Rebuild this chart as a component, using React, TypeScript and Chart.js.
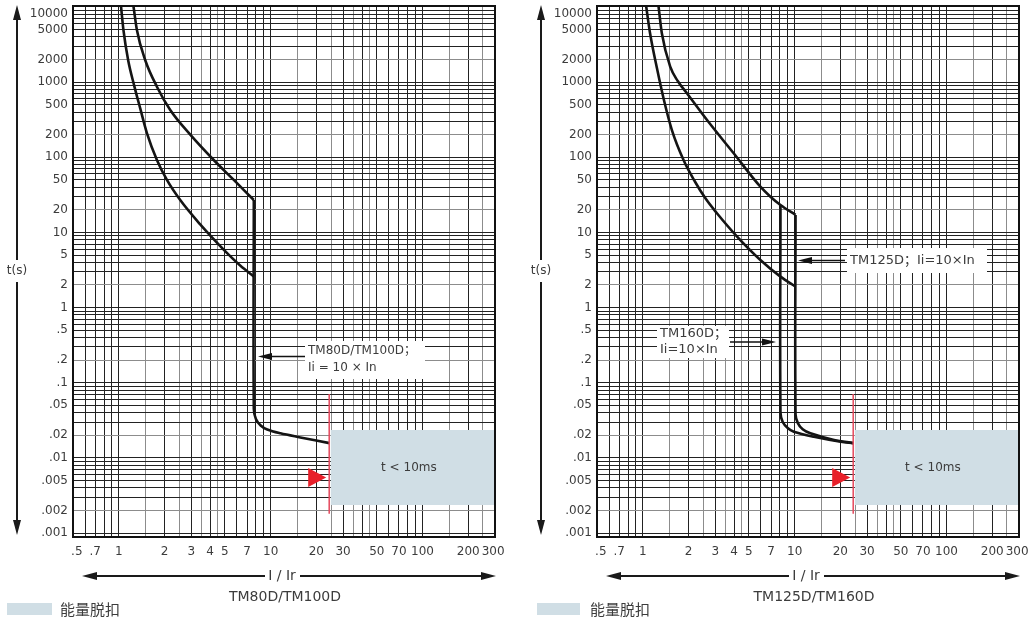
import React, { useEffect, useRef } from 'react';
import { Chart, registerables } from 'chart.js';

Chart.register(...registerables);

// ---------------- data ----------------
const X_LABEL_VALUES = [0.5, 0.7, 1, 2, 3, 4, 5, 7, 10, 20, 30, 50, 70, 100, 200, 300];
const X_LABEL_TEXT = ['  .5', '.7', '1', '2', '3', '4', '5', '7', '10', '20', '30', '50', '70', '100', '200', '300 '];
const Y_LABEL_VALUES = [10000, 5000, 2000, 1000, 500, 200, 100, 50, 20, 10, 5, 2, 1, 0.5, 0.2, 0.1, 0.05, 0.02, 0.01, 0.005, 0.002, 0.001];
const Y_LABEL_TEXT = ['10000', '5000', '2000', '1000', '500', '200', '100', '50', '20', '10', '5', '2', '1', '.5', '.2', '.1', '.05', '.02', '.01', '.005', '.002', '.001'];
const X_GRID_MANTISSAS = [1, 1.5, 2, 2.5, 3, 3.5, 4, 4.5, 5, 6, 7, 8, 9];
const Y_GRID_MANTISSAS = [1, 2, 3, 4, 5, 6, 7, 8, 9];

// TM80D/TM100D
const L_LOWER_I = [1.035, 1.074, 1.153, 1.264, 1.384, 1.533, 1.784, 2.076, 2.54, 3.44, 4.2, 5.17, 6.33, 7.75];
const L_LOWER_T = [10300, 4943, 1972, 900, 450, 210, 92, 50, 27, 12.8, 8.2, 5.3, 3.6, 2.6];
const L_UPPER_I = [1.25, 1.317, 1.493, 1.784, 2.183, 2.958, 4.22, 5.72, 7.75];
const L_UPPER_T = [10300, 4943, 1972, 869, 426, 200, 92, 50, 27];
const L_TAIL_I = [7.75, 7.75, 8.0, 8.6, 9.5, 11.6, 15.7, 24.4];
const L_TAIL_T = [27, 0.045, 0.033, 0.027, 0.0238, 0.0212, 0.0187, 0.0157];

// TM125D/TM160D
const R_LOWER_I = [1.053, 1.119, 1.239, 1.384, 1.556, 1.856, 2.2, 2.6, 3.08, 4.18, 5.95, 8.07, 10.14];
const R_LOWER_T = [10300, 4400, 1550, 560, 230, 92, 48, 28, 18, 8.8, 4.3, 2.58, 1.9];
const R_UPPER_I = [1.27, 1.336, 1.517, 1.70, 1.955, 2.65, 3.97, 5.95, 6.93, 8.07, 10.14];
const R_UPPER_T = [10300, 4467, 1606, 1035, 710, 313, 113, 40.6, 29.9, 23.2, 17.1];
const R_TAIL160_I = [8.07, 8.07, 8.35, 9.0, 9.88, 13.4, 20.1, 24.4];
const R_TAIL160_T = [23.2, 0.04, 0.03, 0.025, 0.0223, 0.0191, 0.0164, 0.0157];
const R_TAIL125_I = [10.14, 10.14, 10.5, 11.3, 12.7, 18.2, 24.4];
const R_TAIL125_T = [17.1, 0.038, 0.029, 0.024, 0.0212, 0.0173, 0.0157];

// energy-trip zone
const ENERGY_BOX_I = [24.9, 300];
const ENERGY_BOX_T = [0.00236, 0.0235];
const RED_LINE_I = 24.3;
const RED_LINE_T = [0.0018, 0.0708];
const RED_MARK_T = 0.0055;

const X_MIN = 0.5;
const X_MAX = 300;
const Y_MIN = 0.000885;
const Y_MAX = 10310;

// ---------------- styles ----------------
const H = 621;
const FONT = '"DejaVu Sans", "Noto Sans CJK SC", sans-serif';
const CJK = '"Noto Sans CJK SC", sans-serif';
const TEXT = '#3c3c3c';
const CURVE = '#141414';
const BOX_COLOR = '#d0dee5';
const RED_LINE = '#e5485c';
const RED_MARK = '#e8202a';

function buildGrid(mants: number[], lo: number, hi: number, e0: number, e1: number) {
  const out: number[] = [];
  for (let e = e0; e <= e1; e++) {
    for (const m of mants) {
      const v = +(m * Math.pow(10, e)).toPrecision(6);
      if (v >= lo * 0.9999 && v <= hi * 1.0001) out.push(v);
    }
  }
  return out;
}
const X_GRID = buildGrid(X_GRID_MANTISSAS, X_MIN, X_MAX, -1, 2);
const Y_GRID = buildGrid(Y_GRID_MANTISSAS, 0.001, 10000, -3, 4);

function mantissa(v: number) {
  return v / Math.pow(10, Math.floor(Math.log10(v) + 1e-9));
}
function findLabel(v: number, vals: number[], texts: string[]) {
  const i = vals.findIndex((k) => Math.abs(k - v) <= k * 1e-6);
  return i >= 0 ? texts[i] : '';
}

type Curve = { i: number[]; t: number[]; smooth: 'monotone' | 'tension' };
type Note = { lines: string[]; box: number[]; textX: number; lineY: number[]; arrow: number[]; font: number };
type PanelCfg = {
  key: string;
  left: number;
  width: number;
  subtitle: string;
  subtitleX: number;
  swatchX: number;
  swatchW: number;
  legendTextX: number;
  curves: Curve[];
  notes: Note[];
};

const PANELS: PanelCfg[] = [
  {
    key: 'L',
    left: 0,
    width: 524,
    subtitle: 'TM80D/TM100D',
    subtitleX: 285,
    swatchX: 7,
    swatchW: 45,
    legendTextX: 60,
    curves: [
      { i: L_LOWER_I, t: L_LOWER_T, smooth: 'monotone' },
      { i: L_UPPER_I, t: L_UPPER_T, smooth: 'monotone' },
      { i: L_TAIL_I, t: L_TAIL_T, smooth: 'tension' },
    ],
    notes: [
      { lines: ['TM80D/TM100D；', 'Ii = 10 × In'], box: [305, 341, 120, 38], textX: 308, lineY: [351, 368], arrow: [305, 356.5, 258, 356.5], font: 12 },
    ],
  },
  {
    key: 'R',
    left: 524,
    width: 509,
    subtitle: 'TM125D/TM160D',
    subtitleX: 290,
    swatchX: 13,
    swatchW: 43,
    legendTextX: 66,
    curves: [
      { i: R_LOWER_I, t: R_LOWER_T, smooth: 'monotone' },
      { i: R_UPPER_I, t: R_UPPER_T, smooth: 'monotone' },
      { i: R_TAIL160_I, t: R_TAIL160_T, smooth: 'tension' },
      { i: R_TAIL125_I, t: R_TAIL125_T, smooth: 'tension' },
    ],
    notes: [
      { lines: ['TM125D；Ii=10×In'], box: [323, 248, 140, 25], textX: 326, lineY: [260.5], arrow: [321, 260.5, 274, 260.5], font: 13 },
      { lines: ['TM160D；', 'Ii=10×In'], box: [133, 326, 72, 32], textX: 136, lineY: [334, 350], arrow: [206, 342, 252, 342], font: 13 },
    ],
  },
];

function arrowHead(ctx: CanvasRenderingContext2D, tx: number, ty: number, dx: number, dy: number, len: number, half: number) {
  const bx = tx - dx * len;
  const by = ty - dy * len;
  const px = -dy;
  const py = dx;
  ctx.beginPath();
  ctx.moveTo(tx, ty);
  ctx.lineTo(bx + px * half, by + py * half);
  ctx.lineTo(bx - px * half, by - py * half);
  ctx.closePath();
  ctx.fill();
}

function Panel({ cfg }: { cfg: PanelCfg }) {
  const ref = useRef<HTMLCanvasElement | null>(null);

  useEffect(() => {
    const canvas = ref.current;
    if (!canvas) return;

    const deco = {
      id: 'deco' + cfg.key,
      beforeDatasetsDraw(chart: any) {
        const { ctx, scales } = chart;
        const xs = scales.x;
        const ys = scales.y;
        const x1 = xs.getPixelForValue(ENERGY_BOX_I[0]);
        const x2 = xs.getPixelForValue(ENERGY_BOX_I[1]);
        const y1 = ys.getPixelForValue(ENERGY_BOX_T[1]);
        const y2 = ys.getPixelForValue(ENERGY_BOX_T[0]);
        ctx.save();
        ctx.fillStyle = BOX_COLOR;
        ctx.fillRect(x1, y1, x2 - x1, y2 - y1);
        ctx.restore();
      },
      afterDatasetsDraw(chart: any) {
        const { ctx, chartArea: a, scales } = chart;
        const xs = scales.x;
        const ys = scales.y;
        ctx.save();

        // red boundary line and marker
        const rx = xs.getPixelForValue(RED_LINE_I);
        ctx.strokeStyle = RED_LINE;
        ctx.lineWidth = 1.5;
        ctx.beginPath();
        ctx.moveTo(rx, ys.getPixelForValue(RED_LINE_T[1]));
        ctx.lineTo(rx, ys.getPixelForValue(RED_LINE_T[0]));
        ctx.stroke();
        const my = ys.getPixelForValue(RED_MARK_T);
        ctx.fillStyle = RED_MARK;
        ctx.beginPath();
        ctx.moveTo(rx - 3, my);
        ctx.lineTo(rx - 21, my - 9.5);
        ctx.lineTo(rx - 21, my + 9.5);
        ctx.closePath();
        ctx.fill();

        // zone text
        const bx1 = xs.getPixelForValue(ENERGY_BOX_I[0]);
        const bx2 = xs.getPixelForValue(ENERGY_BOX_I[1]);
        const by1 = ys.getPixelForValue(ENERGY_BOX_T[1]);
        const by2 = ys.getPixelForValue(ENERGY_BOX_T[0]);
        ctx.fillStyle = TEXT;
        ctx.font = `12px ${FONT}`;
        ctx.textAlign = 'center';
        ctx.textBaseline = 'middle';
        ctx.fillText('t < 10ms', (bx1 + bx2) / 2 - 4, (by1 + by2) / 2);

        // plot border
        ctx.strokeStyle = '#111';
        ctx.lineWidth = 2;
        ctx.strokeRect(a.left, a.top, a.right - a.left, a.bottom - a.top);

        // annotations
        for (const n of cfg.notes) {
          ctx.fillStyle = '#fff';
          ctx.fillRect(n.box[0], n.box[1], n.box[2], n.box[3]);
          ctx.fillStyle = TEXT;
          ctx.font = `${n.font}px ${FONT}`;
          ctx.textAlign = 'left';
          ctx.textBaseline = 'middle';
          n.lines.forEach((s, k) => ctx.fillText(s, n.textX, n.lineY[k]));
          const [x0, y0, x1, y1] = n.arrow;
          const dir = Math.sign(x1 - x0);
          ctx.strokeStyle = '#111';
          ctx.lineWidth = 1.5;
          ctx.beginPath();
          ctx.moveTo(x0, y0);
          ctx.lineTo(x1 - dir * 10, y1);
          ctx.stroke();
          ctx.fillStyle = '#111';
          arrowHead(ctx, x1, y1, dir, 0, 14, 3.5);
        }

        // vertical axis arrow with t(s)
        const ax = 17;
        const tY = 271;
        ctx.strokeStyle = '#1a1a1a';
        ctx.fillStyle = '#1a1a1a';
        ctx.lineWidth = 2;
        ctx.beginPath();
        ctx.moveTo(ax, 16);
        ctx.lineTo(ax, tY - 11);
        ctx.moveTo(ax, tY + 11);
        ctx.lineTo(ax, 524);
        ctx.stroke();
        arrowHead(ctx, ax, 5, 0, -1, 15, 4);
        arrowHead(ctx, ax, 535, 0, 1, 15, 4);
        ctx.fillStyle = TEXT;
        ctx.font = `12px ${FONT}`;
        ctx.textAlign = 'center';
        ctx.textBaseline = 'middle';
        ctx.fillText('t(s)', ax, tY);

        // horizontal axis arrow with I / Ir
        const hy = 576;
        const lx = a.left + 9;
        const rxTip = a.right + 1;
        const cx = 282;
        ctx.strokeStyle = '#1a1a1a';
        ctx.fillStyle = '#1a1a1a';
        ctx.beginPath();
        ctx.moveTo(lx + 10, hy);
        ctx.lineTo(cx - 17, hy);
        ctx.moveTo(cx + 18, hy);
        ctx.lineTo(rxTip - 10, hy);
        ctx.stroke();
        arrowHead(ctx, lx, hy, -1, 0, 15, 4);
        arrowHead(ctx, rxTip, hy, 1, 0, 15, 4);
        ctx.fillStyle = TEXT;
        ctx.font = `14px ${FONT}`;
        ctx.fillText('I / Ir', cx, hy);

        // subtitle
        ctx.font = `14px ${FONT}`;
        ctx.fillText(cfg.subtitle, cfg.subtitleX, 597);

        // legend
        ctx.fillStyle = BOX_COLOR;
        ctx.fillRect(cfg.swatchX, 603, cfg.swatchW, 12);
        ctx.fillStyle = TEXT;
        ctx.font = `15px ${CJK}`;
        ctx.textAlign = 'left';
        ctx.fillText('能量脱扣', cfg.legendTextX, 609);

        ctx.restore();
      },
    };

    const chart = new Chart(canvas, {
      type: 'line',
      data: {
        datasets: cfg.curves.map((c) => ({
          data: c.i.map((v, k) => ({ x: v, y: c.t[k] })),
          borderColor: CURVE,
          borderWidth: 2.6,
          pointRadius: 0,
          tension: c.smooth === 'tension' ? 0.35 : 0.4,
          cubicInterpolationMode: c.smooth === 'monotone' ? 'monotone' : 'default',
          fill: false,
        })),
      },
      options: {
        responsive: false,
        animation: false,
        devicePixelRatio: 1,
        events: [],
        layout: { padding: { left: 0, top: 6, right: cfg.width - 495, bottom: 0 }, autoPadding: false },
        plugins: { legend: { display: false }, tooltip: { enabled: false }, title: { display: false } },
        scales: {
          x: {
            type: 'logarithmic',
            min: X_MIN,
            max: X_MAX,
            bounds: 'data',
            afterBuildTicks: (s: any) => {
              s.ticks = X_GRID.map((v) => ({ value: v }));
            },
            afterFit: (s: any) => {
              s.height = H - 537;
              s.paddingLeft = 0;
              s.paddingRight = 0;
            },
            border: { display: false },
            grid: {
              drawTicks: false,
              lineWidth: 1,
              color: (ctx: any) => {
                const v = ctx.tick ? ctx.tick.value : 1;
                const m = mantissa(v);
                return Math.abs(m - Math.round(m)) > 0.01 ? '#8c8c8c' : '#222';
              },
            },
            ticks: {
              autoSkip: false,
              maxRotation: 0,
              minRotation: 0,
              padding: 8,
              color: TEXT,
              font: { family: FONT, size: 12 },
              callback: (v: any) => findLabel(Number(v), X_LABEL_VALUES, X_LABEL_TEXT),
            },
          },
          y: {
            type: 'logarithmic',
            min: Y_MIN,
            max: Y_MAX,
            bounds: 'data',
            afterBuildTicks: (s: any) => {
              s.ticks = Y_GRID.map((v) => ({ value: v }));
            },
            afterFit: (s: any) => {
              s.width = 73;
              s.paddingTop = 0;
              s.paddingBottom = 0;
            },
            border: { display: false },
            grid: {
              drawTicks: false,
              lineWidth: 1,
              color: (ctx: any) => {
                const v = ctx.tick ? ctx.tick.value : 1;
                const m = Math.round(mantissa(v));
                return m === 2 ? '#8c8c8c' : '#222';
              },
            },
            ticks: {
              autoSkip: false,
              padding: 5,
              color: TEXT,
              font: { family: FONT, size: 12 },
              callback: (v: any) => {
                const s = findLabel(Number(v), Y_LABEL_VALUES, Y_LABEL_TEXT);
                return s === '10000' ? ['', s] : s;
              },
            },
          },
        },
      } as any,
      plugins: [deco],
    });

    return () => chart.destroy();
  }, [cfg]);

  return (
    <canvas
      ref={ref}
      width={cfg.width}
      height={H}
      style={{ position: 'absolute', left: cfg.left, top: 0, width: cfg.width, height: H, display: 'block' }}
    />
  );
}

export default function App() {
  return (
    <div style={{ position: 'fixed', left: 0, top: 0, width: 1033, height: H, background: '#fff', overflow: 'hidden' }}>
      {PANELS.map((p) => (
        <Panel key={p.key} cfg={p} />
      ))}
    </div>
  );
}
